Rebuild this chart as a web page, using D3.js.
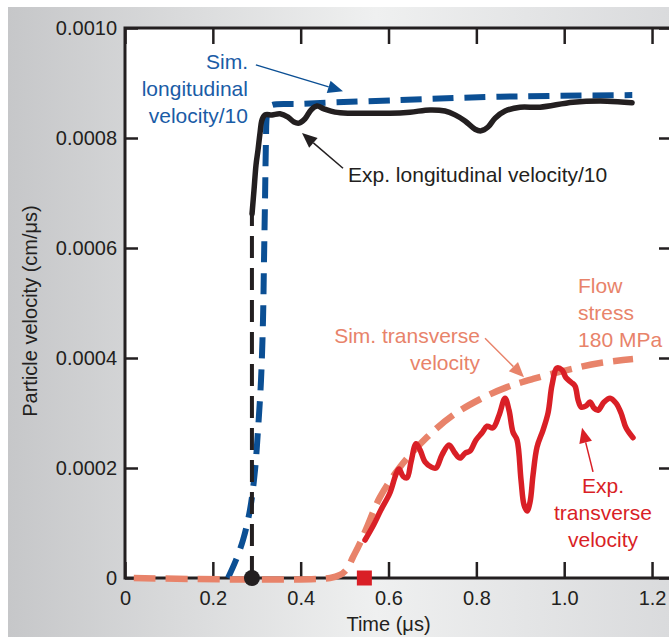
<!DOCTYPE html>
<html><head><meta charset="utf-8">
<script src="https://cdn.jsdelivr.net/npm/d3@7"></script>
<style>html,body{margin:0;padding:0;background:#fff;}svg{display:block;}</style>
</head><body>
<script>
// ---------- data ----------
const xTicks = [0, 0.2, 0.4, 0.6, 0.8, 1.0, 1.2];
const yTicks = [0, 0.0002, 0.0004, 0.0006, 0.0008, 0.0010];

// Simulated longitudinal velocity / 10  [time (us), velocity (cm/us)]
const simLong = [
  [0.2345,0],[0.2527,0.0000327],[0.2687,0.0000691],[0.2846,0.000124],[0.296,0.000196],
  [0.3028,0.000269],[0.3097,0.00036],[0.3142,0.000469],[0.3165,0.000578],[0.3188,0.000687],
  [0.321,0.000796],[0.3233,0.000842],[0.330,0.000858],[0.3985,0.000862],[0.626,0.000869],
  [0.854,0.000875],[1.155,0.000878]
];
// Experimental longitudinal velocity / 10 : dashed rise segment and solid record
const expLongRise = [[0.289,0],[0.289,0.000662]];
const expLong = [
  [0.2892,0.000662],[0.2937,0.000705],[0.2983,0.000751],[0.3028,0.000778],[0.3074,0.000809],
  [0.312,0.000833],[0.3188,0.000842],[0.3347,0.000842],[0.3529,0.000844],[0.3712,0.000838],
  [0.3848,0.000829],[0.3962,0.000827],[0.4099,0.000835],[0.4235,0.000851],[0.4372,0.000858],
  [0.4531,0.000853],[0.4782,0.000847],[0.5123,0.000845],[0.5579,0.000845],[0.6034,0.000845],
  [0.649,0.000847],[0.6945,0.000851],[0.7286,0.000849],[0.7514,0.000842],[0.7742,0.000831],
  [0.797,0.000816],[0.8106,0.000813],[0.8266,0.00082],[0.8425,0.000836],[0.8653,0.000849],
  [0.8994,0.000856],[0.945,0.000856],[1.0201,0.000865],[1.0975,0.000867],[1.1545,0.000864]
];
// Simulated transverse velocity (flow stress 180 MPa)
const simTrans = [
  [0.02,0],[0.4668,0],[0.4896,0.0000055],[0.5055,0.0000164],[0.5192,0.0000382],[0.5351,0.0000636],
  [0.551,0.0000927],[0.5806,0.000147],[0.6262,0.000202],[0.6877,0.000256],[0.7469,0.000296],
  [0.8083,0.000325],[0.8698,0.000347],[0.929,0.000362],[1.0064,0.000378],[1.0816,0.000391],
  [1.1567,0.000398]
];
// Experimental transverse velocity
const expTrans = [
  [0.5465,0.0000691],[0.5647,0.0000945],[0.5829,0.000124],[0.6034,0.000155],[0.6171,0.000189],
  [0.6239,0.000198],[0.633,0.000185],[0.6421,0.000182],[0.6512,0.000211],[0.6626,0.000244],
  [0.6717,0.000233],[0.6831,0.000211],[0.6968,0.000202],[0.7081,0.0002],[0.7218,0.000224],
  [0.7378,0.000242],[0.7514,0.000227],[0.7628,0.000218],[0.7742,0.000227],[0.7856,0.000231],
  [0.7992,0.000251],[0.8129,0.000264],[0.8243,0.000276],[0.8379,0.000273],[0.8516,0.000296],
  [0.8653,0.000327],[0.8744,0.000305],[0.8835,0.000265],[0.8926,0.000251],[0.9017,0.000178],
  [0.9085,0.000133],[0.9154,0.000122],[0.9222,0.000138],[0.929,0.000187],[0.9381,0.000238],
  [0.9518,0.000269],[0.9632,0.0003],[0.9723,0.000351],[0.9837,0.000382],[0.9951,0.000378],
  [1.0042,0.000364],[1.0156,0.000356],[1.0247,0.000349],[1.0315,0.000324],[1.0384,0.000311],
  [1.0497,0.000313],[1.0588,0.00032],[1.0679,0.000309],[1.077,0.000305],[1.0907,0.00032],
  [1.1044,0.000327],[1.118,0.000318],[1.1294,0.0003],[1.1408,0.000273],[1.1567,0.000255]
];
// Arrival markers
const longArrival = [[0.289, 0]];
const transArrival = [[0.545, 0]];

// Annotations (data coordinates)
const labels = [
  {lines:["Sim.","longitudinal","velocity/10"], t:0.28, v:0.000925, anchor:"end", color:"#1a5ca6"},
  {lines:["Exp. longitudinal velocity/10"], t:0.5078, v:0.00072, anchor:"start", color:"#231f20"},
  {lines:["Sim. transverse","velocity"], t:0.8083, v:0.000427, anchor:"end", color:"#e8836a"},
  {lines:["Flow","stress","180 MPa"], t:1.0315, v:0.000518, anchor:"start", color:"#e8836a"},
  {lines:["Exp.","transverse","velocity"], t:1.0884, v:0.0001545, anchor:"middle", color:"#d91f26"}
];
const arrows = [
  {from:[0.298,0.000933], to:[0.4964,0.000885], color:"#0b4f94"},
  {from:[0.4964,0.000745], to:[0.403,0.000809], color:"#231f20"},
  {from:[0.8197,0.000436], to:[0.9085,0.000365], color:"#e8836a"},
  {from:[1.0656,0.000193], to:[1.0406,0.000273], color:"#d91f26"}
];

// ---------- drawing ----------
const W = 669, H = 643;
const m = {left:125, top:28, right:674, bottom:578};
const FONT = "'Liberation Sans', Arial, Helvetica, sans-serif";
const FS = 20;
const AFS = 21;

const svg = d3.select("body").append("svg").attr("width", W).attr("height", H)
  .style("font-family", FONT);

const defs = svg.append("defs");
const grad = defs.append("linearGradient").attr("id","bg").attr("x1","0").attr("x2","1").attr("y1","0").attr("y2","0");
grad.append("stop").attr("offset","0%").attr("stop-color","#c6c7c9");
grad.append("stop").attr("offset","55%").attr("stop-color","#eff0f0");
grad.append("stop").attr("offset","100%").attr("stop-color","#d9dadc");

svg.append("rect").attr("x",0).attr("y",0).attr("width",W).attr("height",H).attr("fill","#fff");
svg.append("rect").attr("x",8).attr("y",7).attr("width",W).attr("height",630).attr("fill","url(#bg)");

const x = d3.scaleLinear().domain([0, 1.25]).range([m.left, m.right]);
const y = d3.scaleLinear().domain([0, 0.0010]).range([m.bottom, m.top]);

svg.append("rect").attr("x", m.left).attr("y", m.top)
  .attr("width", m.right - m.left).attr("height", m.bottom - m.top).attr("fill", "#fff");

const line = d3.line().x(d => x(d[0])).y(d => y(d[1]));
const smooth = d3.line().x(d => x(d[0])).y(d => y(d[1])).curve(d3.curveCatmullRom.alpha(0.5));

// axes
const axColor = "#231f20";
function styleAxis(g){
  g.select(".domain").remove();
  g.selectAll(".tick line").attr("stroke", axColor).attr("stroke-width", 2.5);
  g.selectAll(".tick text").attr("fill", axColor).style("font-size", FS+"px").style("font-family", FONT);
}
svg.append("g").attr("transform",`translate(0,${m.bottom})`)
  .call(d3.axisBottom(x).tickValues(xTicks).tickSize(-16).tickPadding(13)
    .tickFormat(d => d === 0 ? "0" : d.toFixed(1))).call(styleAxis);
svg.append("g").attr("transform",`translate(0,${m.top})`)
  .call(d3.axisTop(x).tickValues(xTicks).tickSize(-16).tickFormat("")).call(styleAxis);
svg.append("g").attr("transform",`translate(${m.left},0)`)
  .call(d3.axisLeft(y).tickValues(yTicks).tickSize(-13).tickPadding(8)
    .tickFormat(d => d === 0 ? "0" : d.toFixed(4))).call(styleAxis);
svg.append("g").attr("transform",`translate(${m.right},0)`)
  .call(d3.axisRight(y).tickValues(yTicks).tickSize(-15).tickFormat("")).call(styleAxis);

// frame
svg.append("rect").attr("x", m.left).attr("y", m.top)
  .attr("width", m.right - m.left).attr("height", m.bottom - m.top)
  .attr("fill","none").attr("stroke", axColor).attr("stroke-width", 3);

// series
svg.append("path").datum(simLong).attr("d", smooth).attr("fill","none")
  .attr("stroke","#0b4f94").attr("stroke-width",6).attr("stroke-dasharray","21,11");
svg.append("path").datum(expLongRise).attr("d", line).attr("fill","none")
  .attr("stroke","#231f20").attr("stroke-width",4).attr("stroke-dasharray","22,10");
svg.append("path").datum(expLong).attr("d", smooth).attr("fill","none")
  .attr("stroke","#231f20").attr("stroke-width",5.5).attr("stroke-linejoin","round").attr("stroke-linecap","round");
svg.append("path").datum(simTrans).attr("d", smooth).attr("fill","none")
  .attr("stroke","#e8836a").attr("stroke-width",6.5).attr("stroke-dasharray","22,10");
svg.append("path").datum(expTrans).attr("d", smooth).attr("fill","none")
  .attr("stroke","#d91f26").attr("stroke-width",5.5).attr("stroke-linejoin","round").attr("stroke-linecap","round");

// markers
svg.selectAll("circle.arr").data(longArrival).join("circle").attr("class","arr")
  .attr("cx", d => x(d[0])).attr("cy", d => y(d[1])).attr("r", 8).attr("fill","#231f20");
svg.selectAll("rect.arr").data(transArrival).join("rect").attr("class","arr")
  .attr("x", d => x(d[0]) - 7.5).attr("y", d => y(d[1]) - 7.5).attr("width",15).attr("height",15).attr("fill","#d91f26");

// arrows
arrows.forEach(a => {
  const x1 = x(a.from[0]), y1 = y(a.from[1]), x2 = x(a.to[0]), y2 = y(a.to[1]);
  const ang = Math.atan2(y2 - y1, x2 - x1);
  const L = 15, Wd = 6.5;
  const bx = x2 - L*Math.cos(ang), by = y2 - L*Math.sin(ang);
  svg.append("line").attr("x1",x1).attr("y1",y1).attr("x2",bx).attr("y2",by)
    .attr("stroke",a.color).attr("stroke-width",1.5);
  const px = -Math.sin(ang), py = Math.cos(ang);
  svg.append("path").attr("d", `M${x2},${y2}L${bx+px*Wd},${by+py*Wd}L${bx-px*Wd},${by-py*Wd}Z`)
    .attr("fill", a.color);
});

// annotation text
labels.forEach(l => {
  const t = svg.append("text").attr("x", x(l.t)).attr("y", y(l.v))
    .attr("text-anchor", l.anchor).attr("fill", l.color).style("font-size", AFS+"px");
  l.lines.forEach((s,i) => t.append("tspan").attr("x", x(l.t)).attr("dy", i === 0 ? 0 : 27).text(s));
});

// axis titles
svg.append("text").attr("x", (m.left + 652) / 2).attr("y", 631).attr("text-anchor","middle")
  .attr("fill", axColor).style("font-size", FS+"px").text("Time (μs)");
svg.append("text").attr("transform", `translate(37,${(m.top + m.bottom)/2 + 8}) rotate(-90)`)
  .attr("text-anchor","middle").attr("fill", axColor).style("font-size", FS+"px").text("Particle velocity (cm/μs)");
</script>
</body></html>
